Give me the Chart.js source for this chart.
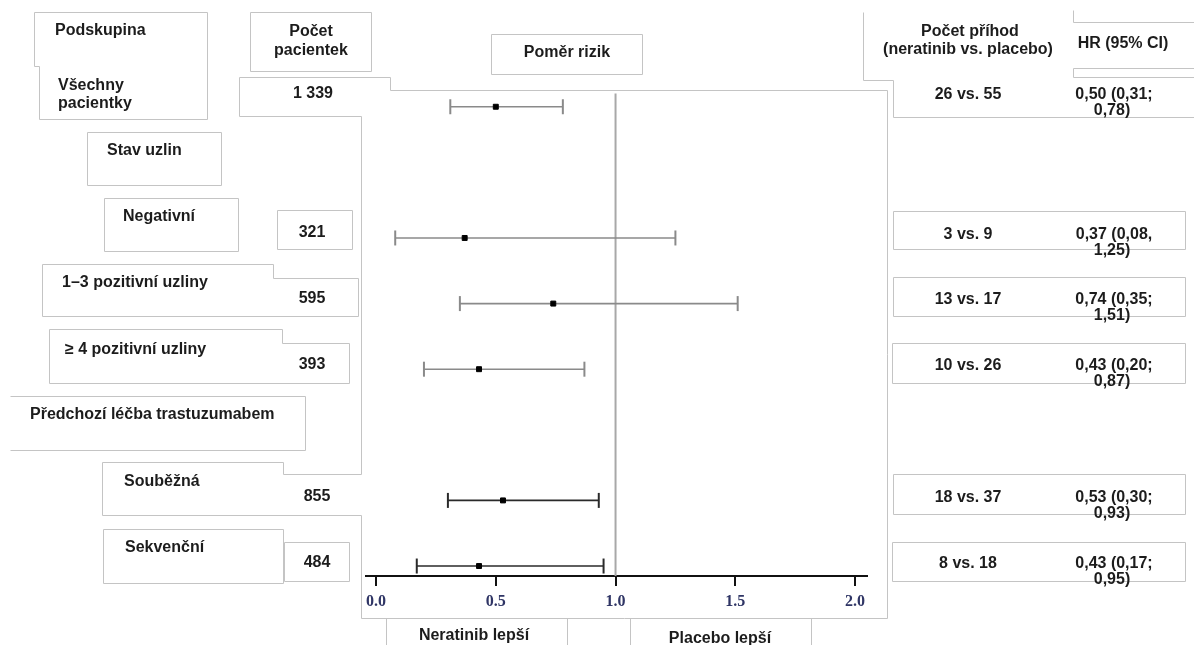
<!DOCTYPE html>
<html lang="cs">
<head>
<meta charset="utf-8">
<title>Poměr rizik – podskupiny</title>
<script src="https://cdn.jsdelivr.net/npm/chart.js@4.4.1/dist/chart.umd.min.js"></script>
<style>
  html, body { margin: 0; padding: 0; background: #fff; }
  #wrap { position: relative; width: 1194px; height: 645px; }
</style>
</head>
<body>
<div id="wrap"><canvas id="forest" width="1194" height="645"></canvas></div>
<script>
// forest plot rows: y index 0..7 (1 and 5 are group headers without a bar)
const rowIndex = [0, 2, 3, 4, 6, 7];
const hazardRatio = [0.50, 0.37, 0.74, 0.43, 0.53, 0.43];
const ciLower = [0.31, 0.08, 0.35, 0.20, 0.30, 0.17];
const ciUpper = [0.78, 1.25, 1.51, 0.87, 0.93, 0.95];
const patients = ['1 339', '321', '595', '393', '855', '484'];
const events = ['26 vs. 55', '3 vs. 9', '13 vs. 17', '10 vs. 26', '18 vs. 37', '8 vs. 18'];
const hrText = [
  ['0,50 (0,31;', '0,78)'],
  ['0,37 (0,08,', '1,25)'],
  ['0,74 (0,35;', '1,51)'],
  ['0,43 (0,20;', '0,87)'],
  ['0,53 (0,30;', '0,93)'],
  ['0,43 (0,17;', '0,95)'],
];
const xTicks = [0, 0.5, 1, 1.5, 2];
const refValue = 1;

// --- page layout (the table around the plot) ---
const FONT = 'bold 16px "Liberation Sans", Arial, sans-serif';
const INK = '#1c1c1c';
const BOX = '#c4c4c4';

const leftLabels = [
  ['Podskupina', 55, 31], ['Všechny', 58, 86], ['pacientky', 58, 104],
  ['Stav uzlin', 107, 151], ['Negativní', 123, 217],
  ['1–3 pozitivní uzliny', 62, 283], ['≥ 4 pozitivní uzliny', 65, 350],
  ['Předchozí léčba trastuzumabem', 30, 415],
  ['Souběžná', 124, 482], ['Sekvenční', 125, 548],
];
const headerLabels = [
  ['Počet', 311, 32], ['pacientek', 311, 51], ['Poměr rizik', 567, 53],
  ['Počet příhod', 970, 32], ['(neratinib vs. placebo)', 968, 50],
  ['HR (95% CI)', 1123, 44],
  ['Neratinib lepší', 474, 636], ['Placebo lepší', 720, 639],
];
const patientsX = [313, 312, 312, 312, 317, 317];
const patientsY = [94, 233, 299, 365, 497, 563];
const eventsY = [95, 235, 300, 366, 498, 564];

const rect = (x0, y0, x1, y1) => [[x0, y0], [x1, y0], [x1, y1], [x0, y1], [x0, y0]];
const boxPaths = [
  [[34, 12], [207, 12], [207, 119], [39, 119], [39, 66], [34, 66], [34, 12]],
  rect(250, 12, 371, 71),
  [[239, 77], [390, 77], [390, 90], [887, 90], [887, 618], [361, 618], [361, 515], [102, 515],
   [102, 462], [283, 462], [283, 474], [361, 474], [361, 116], [239, 116], [239, 77]],
  rect(491, 34, 642, 74),
  rect(87, 132, 221, 185),
  rect(104, 198, 238, 251),
  rect(277, 210, 352, 249),
  [[42, 264], [273, 264], [273, 278], [358, 278], [358, 316], [42, 316], [42, 264]],
  [[49, 329], [282, 329], [282, 343], [349, 343], [349, 383], [49, 383], [49, 329]],
  [[10, 396], [305, 396], [305, 450], [10, 450]],
  rect(103, 529, 283, 583),
  rect(284, 542, 349, 581),
  [[386, 618], [386, 646]], [[567, 618], [567, 646]], [[630, 618], [630, 646]], [[811, 618], [811, 646]],
  [[863, 12], [863, 80], [893, 80], [893, 117], [1194, 117]],
  [[1073, 10], [1073, 22], [1194, 22]],
  [[1073, 68], [1194, 68]],
  [[1073, 68], [1073, 77], [1194, 77]],
  rect(893, 211, 1185, 249),
  rect(893, 277, 1185, 316),
  rect(892, 343, 1185, 383),
  rect(893, 474, 1185, 514),
  rect(892, 542, 1185, 581),
];

const tablePlugin = {
  id: 'forestTable',
  beforeDraw(chart) {
    const ctx = chart.ctx;
    ctx.save();
    ctx.fillStyle = '#fff';
    ctx.fillRect(0, 0, chart.width, chart.height);
    ctx.strokeStyle = BOX;
    ctx.lineWidth = 1;
    boxPaths.forEach((p) => {
      ctx.beginPath();
      p.forEach(([x, y], i) => (i ? ctx.lineTo(x + 0.5, y + 0.5) : ctx.moveTo(x + 0.5, y + 0.5)));
      ctx.stroke();
    });
    ctx.restore();
  },
  afterDraw(chart) {
    const ctx = chart.ctx;
    ctx.save();
    ctx.font = FONT;
    ctx.fillStyle = INK;
    ctx.textBaseline = 'middle';
    ctx.textAlign = 'left';
    leftLabels.forEach(([t, x, y]) => ctx.fillText(t, x, y));
    ctx.textAlign = 'center';
    headerLabels.forEach(([t, x, y]) => ctx.fillText(t, x, y));
    patients.forEach((t, i) => ctx.fillText(t, patientsX[i], patientsY[i]));
    events.forEach((t, i) => ctx.fillText(t, 968, eventsY[i]));
    hrText.forEach(([a, b], i) => {
      ctx.fillText(a, 1114, eventsY[i]);
      ctx.fillText(b, 1112, eventsY[i] + 16);
    });
    ctx.restore();
  },
};

const yMin = -0.24, yMax = 7.152, refTop = -0.2;
const barColor = (i) => (i < 4 ? '#8a8a8a' : '#2a2a2a');

const datasets = [{
  label: 'HR',
  data: rowIndex.map((y, i) => ({ x: hazardRatio[i], y })),
  pointStyle: 'rect', pointRadius: 3.5, pointBorderWidth: 1,
  backgroundColor: '#000', borderColor: '#000', showLine: false, order: 0,
}];
rowIndex.forEach((y, i) => datasets.push({
  label: '95% CI ' + i,
  data: [{ x: ciLower[i], y }, { x: ciUpper[i], y }],
  showLine: true, borderColor: barColor(i), borderWidth: 1.6,
  pointStyle: 'line', pointRotation: 90, pointRadius: 7.5,
  pointBorderColor: barColor(i), pointBorderWidth: 2, order: 1,
}));
datasets.push({
  label: 'HR = 1',
  data: [{ x: refValue, y: refTop }, { x: refValue, y: yMax }],
  showLine: true, borderColor: '#a8a8a8', borderWidth: 2, pointRadius: 0, order: 2,
});

new Chart(document.getElementById('forest'), {
  type: 'scatter',
  data: { datasets },
  plugins: [tablePlugin],
  options: {
    responsive: false,
    animation: false,
    devicePixelRatio: 1,
    events: [],
    layout: { padding: { left: 366, right: 327, top: 91, bottom: 29 } },
    plugins: { legend: { display: false }, tooltip: { enabled: false } },
    scales: {
      x: {
        type: 'linear', min: -0.042, max: 2.05,
        afterBuildTicks: (s) => { s.ticks = xTicks.map((v) => ({ value: v })); },
        afterFit: (s) => { s.height = 40; },
        ticks: {
          callback: (v) => Number(v).toFixed(1), color: '#2f3565', padding: 6,
          autoSkip: false, maxRotation: 0,
          font: { family: '"Liberation Serif", "Times New Roman", serif', weight: 'bold', size: 16 },
        },
        grid: { drawOnChartArea: false, drawTicks: true, tickLength: 10, color: '#111', lineWidth: 2 },
        border: { display: true, color: '#111', width: 2 },
      },
      y: { type: 'linear', display: false, reverse: true, min: yMin, max: yMax },
    },
  },
});
</script>
</body>
</html>
